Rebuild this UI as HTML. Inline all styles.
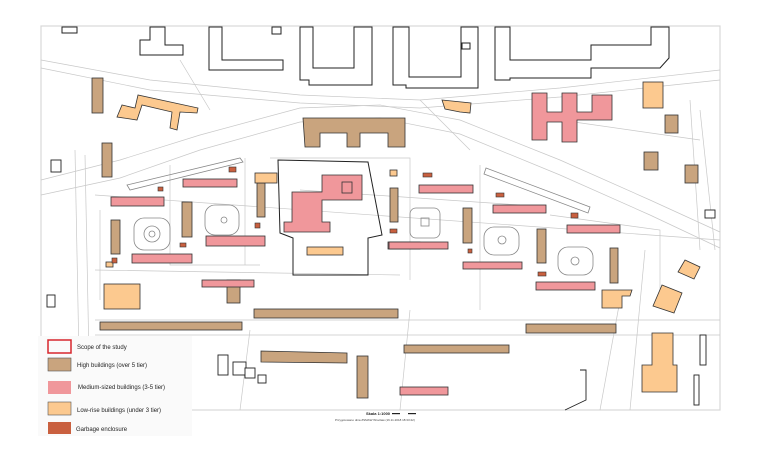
<!DOCTYPE html>
<html><head><meta charset="utf-8"><style>
html,body{margin:0;padding:0;background:#fff;width:760px;height:461px;overflow:hidden;font-family:"Liberation Sans",sans-serif}
svg{display:block}
</style></head><body>
<svg width="760" height="461" viewBox="0 0 760 461" xmlns="http://www.w3.org/2000/svg">
<rect x="0" y="0" width="760" height="461" fill="#fff"/>
<!-- map frame -->
<rect x="41" y="26" width="679" height="384" fill="#fff" stroke="#d8d8d8" stroke-width="1.2"/>
<!-- roads / parcels (light gray) -->
<g fill="none" stroke="#c8c8c8" stroke-width="0.7">
<path d="M41 60 L150 80 L300 95 L420 100 L560 88 L720 70"/>
<path d="M41 68 L150 90 L300 103 L420 108 L560 97 L720 80"/>
<path d="M41 180 L120 160 L200 135 L300 108 L380 105 L460 120 L560 160 L650 200 L720 232"/>
<path d="M41 195 L120 178 L200 150 L300 122 L380 118 L460 134 L560 175 L650 215 L720 248"/>
<path d="M85 155 L90 410"/><path d="M75 150 L80 410"/>
<path d="M95 195 L720 240"/>
<path d="M95 270 L400 275"/>
<path d="M95 320 L720 320"/>
<path d="M95 335 L720 335"/>
<path d="M250 330 L240 410"/><path d="M410 310 L400 410"/>
<path d="M620 300 L600 410"/><path d="M645 250 L630 410"/>
<path d="M700 110 L715 250"/><path d="M690 100 L700 250"/>
<path d="M270 158 L410 158 L410 280"/>
<path d="M245 158 L245 265"/>
<path d="M170 165 L170 265 L260 265"/>
<path d="M100 210 L100 300"/><path d="M480 165 L480 310"/>
<path d="M550 215 L660 230 L660 290"/>
<path d="M300 190 L520 205"/>
<path d="M560 120 L700 140"/>
<path d="M180 60 L210 110"/><path d="M420 100 L470 150"/>
</g>
<g fill="none" stroke="#888" stroke-width="0.8">
<path d="M127 185 L240 158 L243 162 L130 190 Z"/>
<path d="M486 168 L590 207 L588 213 L484 174 Z"/>
<rect x="134" y="218" width="36" height="32" rx="10"/><circle cx="152" cy="234" r="8"/><circle cx="152" cy="234" r="3"/>
<rect x="205" y="205" width="34" height="30" rx="10"/><circle cx="224" cy="220" r="3"/>
<rect x="410" y="208" width="30" height="30" rx="6"/><rect x="421" y="218" width="8" height="8"/>
<rect x="484" y="227" width="35" height="28" rx="10"/><circle cx="502" cy="240" r="4"/>
<rect x="558" y="247" width="35" height="28" rx="10"/><circle cx="575" cy="261" r="4"/>
</g>
<!-- top blocks outlines -->
<g fill="#fff" stroke="#222" stroke-width="1">
<path d="M62 27 L77 27 L77 33 L62 33 Z"/>
<path d="M150 27 L165 27 L165 45 L183 45 L183 55 L140 55 L140 40 L150 40 Z"/>
<path d="M209 27 L222 27 L222 60 L283 60 L283 70 L209 70 Z"/>
<rect x="272" y="27" width="9" height="7"/>
<path d="M300 27 L313 27 L313 68 L354 68 L354 27 L372 27 L372 85 L309 85 L309 80 L300 80 Z"/>
<path d="M393 27 L409 27 L409 77 L461 77 L461 27 L478 27 L478 88 L406 88 L406 85 L393 85 Z"/>
<path d="M495 27 L510 27 L510 60 L591 60 L591 45 L651 45 L651 27 L669 27 L669 58 L660 68 L591 68 L591 78 L510 78 L510 80 L495 80 Z"/>
<rect x="462" y="43" width="8" height="6"/>
</g>
<!-- high buildings -->
<g fill="#c9a47e" stroke="#333" stroke-width="0.8">
<rect x="92" y="78" width="11" height="35"/>
<rect x="102" y="143" width="10" height="34"/>
<path d="M303 118 L405 118 L405 147 L388 147 L388 133 L360 133 L360 147 L347 147 L347 133 L320 133 L320 147 L305 147 Z"/>
<rect x="257" y="183" width="8" height="34"/>
<rect x="111" y="220" width="9" height="34"/>
<rect x="182" y="202" width="10" height="35"/>
<rect x="227" y="280" width="13" height="23"/>
<rect x="254" y="309" width="144" height="9"/>
<rect x="390" y="188" width="8" height="34"/>
<rect x="463" y="208" width="9" height="35"/>
<rect x="537" y="229" width="9" height="34"/>
<rect x="610" y="248" width="8" height="35"/>
<rect x="665" y="115" width="13" height="18"/>
<rect x="644" y="152" width="14" height="18"/>
<rect x="685" y="165" width="13" height="18"/>
<rect x="100" y="322" width="142" height="8"/>
<rect x="526" y="324" width="90" height="9"/>
<path d="M261 351 L347 353 L347 363 L261 362 Z"/>
<rect x="357" y="356" width="11" height="42"/>
<rect x="404" y="345" width="105" height="8"/>
</g>
<!-- medium -->
<g fill="#f0979b" stroke="#333" stroke-width="0.8">
<rect x="111" y="197" width="53" height="9"/>
<rect x="183" y="179" width="54" height="8"/>
<rect x="132" y="254" width="60" height="9"/>
<rect x="206" y="236" width="59" height="10"/>
<path d="M292 192 L322 192 L322 175 L362 175 L362 200 L322 200 L322 222 L330 222 L330 232 L284 232 L284 222 L292 222 Z"/>
<rect x="342" y="182" width="10" height="11"/>
<rect x="202" y="280" width="52" height="7"/>
<rect x="388" y="242" width="32" height="7"/>
<rect x="419" y="185" width="54" height="8"/>
<rect x="389" y="242" width="59" height="7"/>
<rect x="493" y="205" width="53" height="8"/>
<rect x="463" y="262" width="59" height="7"/>
<rect x="567" y="225" width="53" height="8"/>
<rect x="536" y="282" width="59" height="8"/>
<path d="M532 93 L547 93 L547 112 L562 112 L562 93 L577 93 L577 112 L592 112 L592 95 L612 95 L612 120 L577 120 L577 142 L562 142 L562 122 L547 122 L547 140 L532 140 Z"/>
<rect x="400" y="387" width="48" height="8"/>
</g>
<!-- low-rise -->
<g fill="#fcc98f" stroke="#333" stroke-width="0.8">
<path d="M117 117 L122 105 L135 108 L138 95 L198 108 L197 113 L180 112 L177 130 L170 128 L172 112 L142 105 L137 120 Z"/>
<rect x="255" y="173" width="22" height="10"/>
<rect x="307" y="247" width="36" height="8"/>
<rect x="104" y="284" width="36" height="25"/>
<rect x="390" y="170" width="7" height="6"/>
<path d="M442 100 L471 103 L470 113 L460 112 L445 109 Z"/>
<rect x="643" y="82" width="20" height="26"/>
<path d="M602 290 L632 290 L630 296 L622 296 L622 308 L602 308 Z"/>
<path d="M685 260 L700 267 L694 279 L678 272 Z"/>
<path d="M662 285 L682 293 L674 313 L653 306 Z"/>
<path d="M652 333 L673 333 L673 365 L677 365 L677 392 L642 392 L642 365 L652 365 Z"/>
<rect x="106" y="262" width="7" height="5"/>
</g>
<!-- garbage -->
<g fill="#c9603f" stroke="#333" stroke-width="0.6">
<rect x="158" y="187" width="5" height="4"/>
<rect x="229" y="167" width="7" height="5"/>
<rect x="255" y="223" width="5" height="5"/>
<rect x="180" y="243" width="6" height="4"/>
<rect x="112" y="258" width="5" height="5"/>
<rect x="390" y="229" width="7" height="4"/>
<rect x="423" y="173" width="9" height="4"/>
<rect x="496" y="193" width="8" height="4"/>
<rect x="468" y="249" width="4" height="4"/>
<rect x="571" y="213" width="7" height="5"/>
<rect x="538" y="272" width="8" height="4"/>
</g>
<!-- scope -->
<path d="M278 160 L368 162 L382 235 L368 238 L368 275 L293 275 L293 238 L280 233 Z" fill="none" stroke="#222" stroke-width="1"/>
<!-- misc outlines -->
<g fill="#fff" stroke="#222" stroke-width="0.9">
<rect x="218" y="355" width="10" height="20"/>
<rect x="233" y="362" width="13" height="13"/>
<rect x="245" y="368" width="10" height="10"/>
<rect x="258" y="375" width="8" height="8"/>
<rect x="47" y="295" width="8" height="12"/>
<path d="M580 370 L586 370 L586 400 L565 410" fill="none"/>
<rect x="700" y="335" width="6" height="30"/>
<rect x="694" y="375" width="5" height="30"/>
<rect x="705" y="210" width="10" height="8"/>
<rect x="51" y="160" width="10" height="12"/>
</g>
<!-- legend -->
<rect x="38" y="336" width="154" height="100" fill="#fafafa"/>
<g font-size="6" fill="#222">
<rect x="48" y="340" width="23" height="13" fill="none" stroke="#d8262c" stroke-width="1.5"/>
<text x="77" y="349">Scope of the study</text>
<rect x="48" y="358" width="23" height="13" fill="#c9a47e" stroke="#555" stroke-width="0.6"/>
<text x="77" y="367">High buildings (over 5 tier)</text>
<rect x="48" y="381" width="23" height="13" fill="#f0979b"/>
<text x="78" y="389">Medium-sized buildings (3-5 tier)</text>
<rect x="48" y="402" width="23" height="13" fill="#fcc98f" stroke="#555" stroke-width="0.6"/>
<text x="77" y="412">Low-rise buildings (under 3 tier)</text>
<rect x="48" y="422" width="23" height="12" fill="#c9603f"/>
<text x="76" y="431">Garbage enclosure</text>
</g>
<text x="366" y="415" font-size="4" font-weight="bold" fill="#222">Skala 1:1000</text>
<rect x="392" y="413" width="8" height="1.2" fill="#222"/><rect x="408" y="413" width="8" height="1.2" fill="#222"/>
<text x="335" y="421" font-size="3" fill="#444">Przygotowano dnia ZSMAW Wrocław (16.11.2018 18:33:22)</text>
</svg>
</body></html>
